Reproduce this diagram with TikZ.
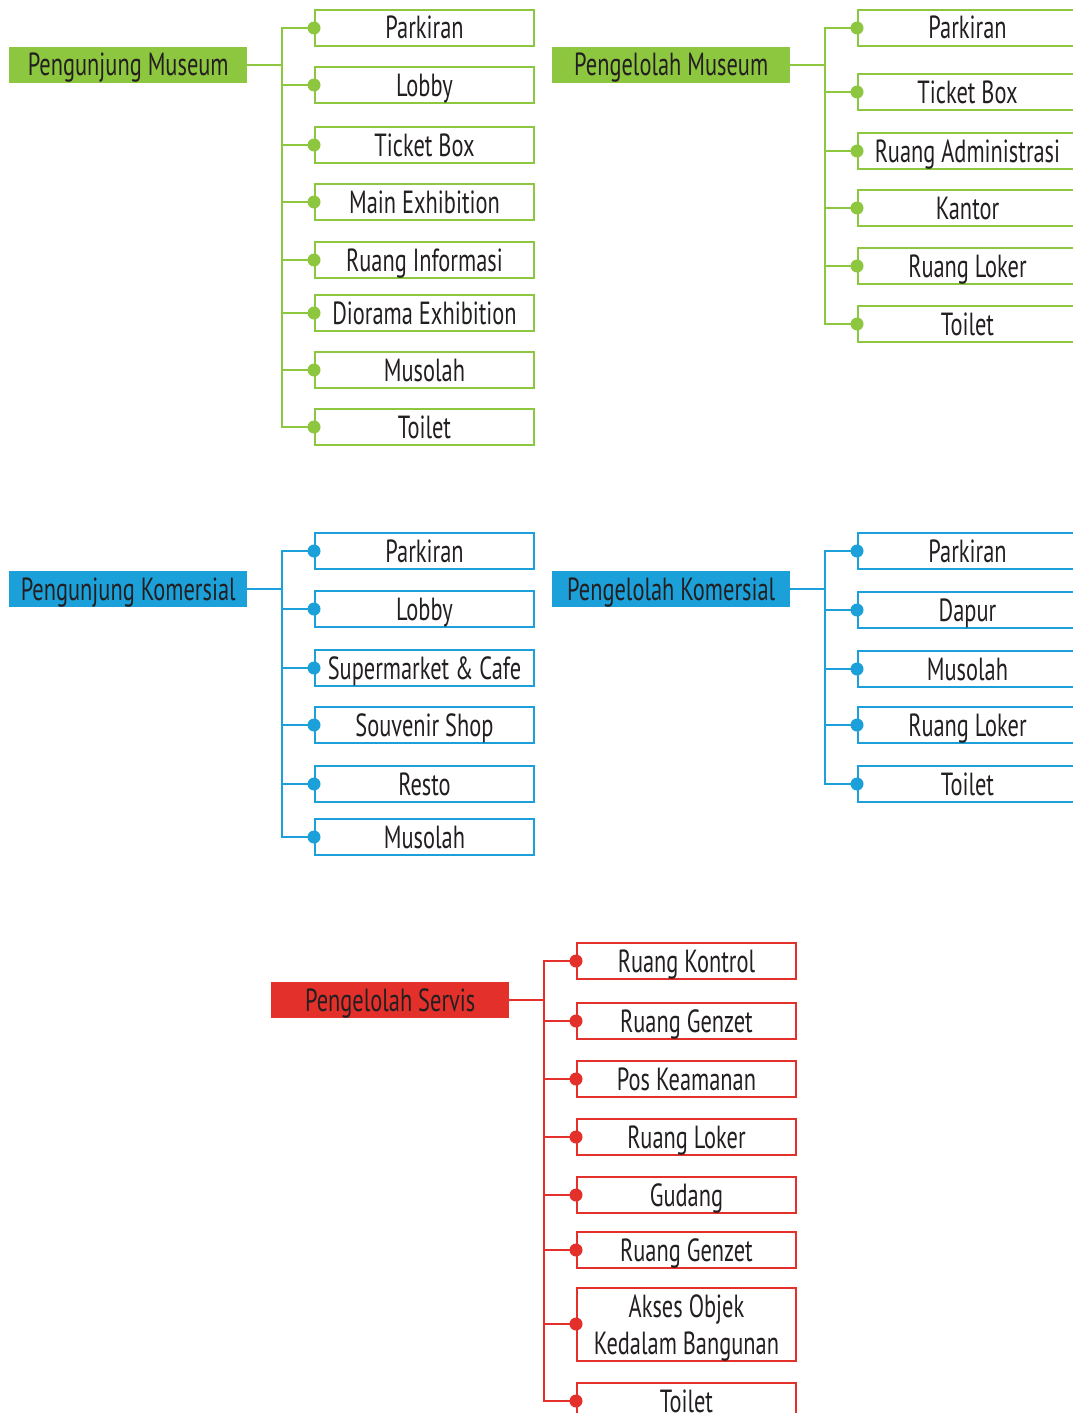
\documentclass[tikz,border=0pt]{standalone}
\usepackage{fontspec}
\setmainfont[FakeStretch=0.7]{PT Sans}
\begin{document}
\definecolor{grn}{HTML}{8DC63F}
\definecolor{blu}{HTML}{1BA0D9}
\definecolor{rd}{HTML}{E4302B}
\definecolor{ink}{HTML}{231F20}
\begin{tikzpicture}[x=1pt,y=-1pt,
  rootbox/.style={fill=#1, minimum width=238pt, minimum height=36pt, inner sep=0pt,
    text height=22pt, text depth=0pt,
    anchor=west, text=ink, font=\fontsize{32}{37}\selectfont},
  itembox/.style={draw=#1, fill=white, line width=2pt, minimum width=219pt, minimum height=36pt,
    inner sep=0pt, text height=22pt, text depth=0pt,
    anchor=west, text=ink, align=center, font=\fontsize{32}{37}\selectfont},
  link/.style={draw=#1, line width=2pt},
  dot/.style={fill=#1}]
\clip (0,0) rectangle (1073,1413);
\useasboundingbox (0,0) rectangle (1073,1413);

% ---- Pengunjung Museum ----
\node[rootbox=grn] (pm) at (9,65) {Pengunjung Museum};
\coordinate (jpm) at (282,65);
\draw[link=grn] (pm.east) -- (jpm);
\foreach \i/\y/\t in {1/28/Parkiran,2/85/Lobby,3/145/Ticket Box,4/202/Main Exhibition,
  5/260/Ruang Informasi,6/313/Diorama Exhibition,7/370/Musolah,8/427/Toilet}{
  \node[itembox=grn] (pm\i) at (314,\y) {\t};
  \draw[link=grn] (jpm) |- (pm\i.west);
  \fill[dot=grn] (pm\i.west) circle (6.5);
}

% ---- Pengelolah Museum ----
\node[rootbox=grn] (gm) at (552,65) {Pengelolah Museum};
\coordinate (jgm) at (825,65);
\draw[link=grn] (gm.east) -- (jgm);
\foreach \i/\y/\t in {1/28/Parkiran,2/92/Ticket Box,3/151/Ruang Administrasi,4/208/Kantor,
  5/266/Ruang Loker,6/324/Toilet}{
  \node[itembox=grn] (gm\i) at (857,\y) {\t};
  \draw[link=grn] (jgm) |- (gm\i.west);
  \fill[dot=grn] (gm\i.west) circle (6.5);
}

% ---- Pengunjung Komersial ----
\node[rootbox=blu] (pk) at (9,589) {Pengunjung Komersial};
\coordinate (jpk) at (282,589);
\draw[link=blu] (pk.east) -- (jpk);
\foreach \i/\y/\t in {1/551/Parkiran,2/609/Lobby,3/668/Supermarket \& Cafe,4/725/Souvenir Shop,
  5/784/Resto,6/837/Musolah}{
  \node[itembox=blu] (pk\i) at (314,\y) {\t};
  \draw[link=blu] (jpk) |- (pk\i.west);
  \fill[dot=blu] (pk\i.west) circle (6.5);
}

% ---- Pengelolah Komersial ----
\node[rootbox=blu] (gk) at (552,589) {Pengelolah Komersial};
\coordinate (jgk) at (825,589);
\draw[link=blu] (gk.east) -- (jgk);
\foreach \i/\y/\t in {1/551/Parkiran,2/610/Dapur,3/669/Musolah,4/725/Ruang Loker,5/784/Toilet}{
  \node[itembox=blu] (gk\i) at (857,\y) {\t};
  \draw[link=blu] (jgk) |- (gk\i.west);
  \fill[dot=blu] (gk\i.west) circle (6.5);
}

% ---- Pengelolah Servis ----
\node[rootbox=rd] (gs) at (271,1000) {Pengelolah Servis};
\coordinate (jgs) at (544,1000);
\draw[link=rd] (gs.east) -- (jgs);
\foreach \i/\y/\t in {1/961/Ruang Kontrol,2/1021/Ruang Genzet,3/1079/Pos Keamanan,4/1137/Ruang Loker,
  5/1195/Gudang,6/1250/Ruang Genzet,8/1401/Toilet}{
  \node[itembox=rd] (gs\i) at (576,\y) {\t};
  \draw[link=rd] (jgs) |- (gs\i.west);
  \fill[dot=rd] (gs\i.west) circle (6.5);
}
\node[itembox=rd, minimum height=73pt, text height=61pt, text depth=0pt] (gs7) at (576,1324)
  {Akses Objek\\Kedalam Bangunan};
\draw[link=rd] (jgs) |- (gs7.west);
\fill[dot=rd] (gs7.west) circle (6.5);
\end{tikzpicture}
\end{document}
